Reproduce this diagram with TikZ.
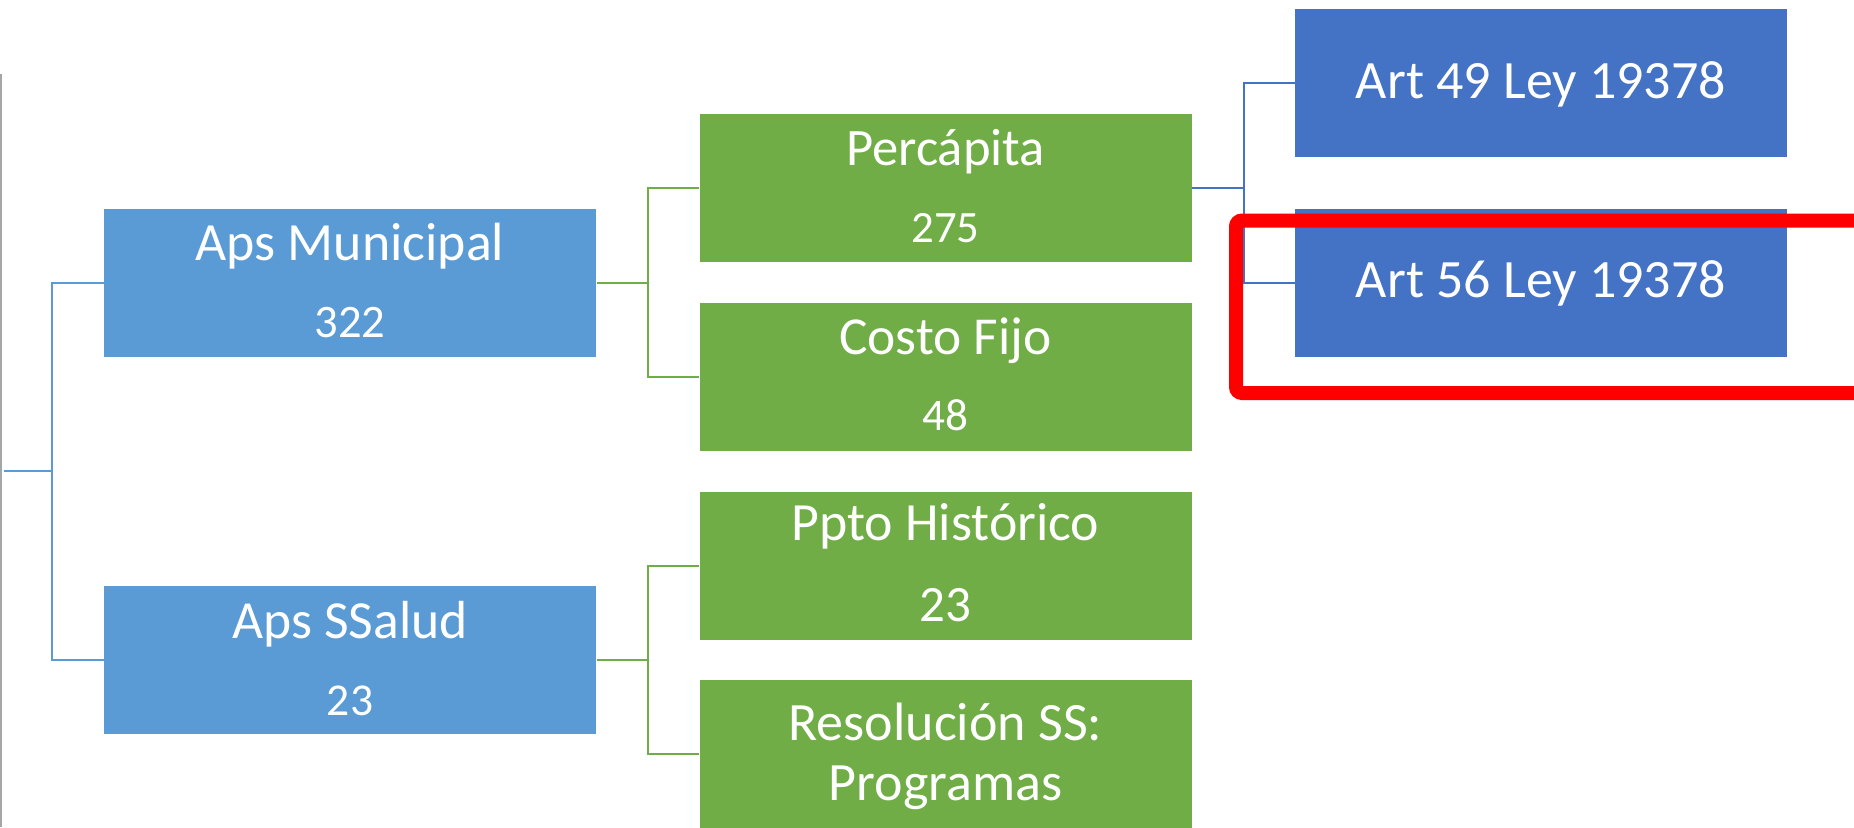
\documentclass[tikz,border=0pt]{standalone}
\usepackage{fontspec}
\setmainfont{Carlito}
\newfontfamily\calfnt{Carlito}
\definecolor{lblue}{HTML}{5B9BD5}
\definecolor{lgreen}{HTML}{70AD47}
\definecolor{dblue}{HTML}{4472C4}
\begin{document}
\begin{tikzpicture}[x=0.5pt,y=-0.5pt,
  box/.style={rectangle,inner sep=0pt,outer sep=0pt,minimum height=74.5pt,minimum width=246.5pt,draw=white,line width=0.4pt},
  lone/.style={box,fill=lblue},
  ltwo/.style={box,fill=lgreen},
  lthree/.style={box,fill=dblue},
  txt/.style={anchor=base,text=white,inner sep=0pt},
  bl/.style={draw=lblue,line width=1pt},
  gl/.style={draw=lgreen,line width=1pt},
  dl/.style={draw=dblue,line width=1pt}]
\useasboundingbox (0,0) rectangle (1854,827);
% page edge
\draw[black!35,line width=0.8pt] (1,74) -- (1,827);
% boxes
\node[lone] (apm) at (350,282.5) {};
\node[lone] (aps) at (350,660) {};
\node[ltwo] (perc) at (945.5,187.5) {};
\node[ltwo] (cf) at (945.5,376.5) {};
\node[ltwo] (ppto) at (945.5,566) {};
\node[ltwo] (res) at (945.5,754) {};
\node[lthree] (a49) at (1541,82.5) {};
\node[lthree] (a56) at (1541,282.5) {};
% texts
\node[txt,font=\calfnt\fontsize{26.9}{30}\selectfont] (tapm) at (350,260) {Aps Municipal};
\node[txt,font=\calfnt\fontsize{23.3}{30}\selectfont] (napm) at (350,337) {322};
\node[txt,font=\calfnt\fontsize{26.8}{30}\selectfont] (taps) at (350,638) {Aps SSalud};
\node[txt,font=\calfnt\fontsize{22.8}{30}\selectfont] (naps) at (350,715) {23};
\node[txt,font=\calfnt\fontsize{26.3}{30}\selectfont] (tperc) at (945.5,165) {Percápita};
\node[txt,font=\calfnt\fontsize{22.4}{30}\selectfont] (nperc) at (945.5,242) {275};
\node[txt,font=\calfnt\fontsize{26.7}{30}\selectfont] (tcf) at (945.5,354) {Costo Fijo};
\node[txt,font=\calfnt\fontsize{22.6}{30}\selectfont] (ncf) at (945.5,430) {48};
\node[txt,font=\calfnt\fontsize{26.9}{30}\selectfont] (tppto) at (945.5,540) {Ppto Histórico};
\node[txt,font=\calfnt\fontsize{25.5}{30}\selectfont] (nppto) at (945.5,621.7) {23};
\node[txt,font=\calfnt\fontsize{27}{30}\selectfont] (tres) at (945.5,740) {Resolución SS:};
\node[txt,font=\calfnt\fontsize{27}{30}\selectfont] (tres2) at (945.5,800) {Programas};
\node[txt,font=\calfnt\fontsize{27}{30}\selectfont] (ta49) at (1541,98) {Art 49 Ley 19378};
\node[txt,font=\calfnt\fontsize{27}{30}\selectfont] (ta56) at (1541,297) {Art 56 Ley 19378};
% connectors
\coordinate (root) at (4,471);
\coordinate (j0) at (52,0);
\coordinate (j1) at (648,0);
\coordinate (j2) at (1243.5,0);
\draw[bl] (root) -- (root -| j0) |- (apm.west);
\draw[bl] (root -| j0) |- (aps.west);
\draw[gl] (apm.east) -- (apm.east -| j1) |- (perc.west);
\draw[gl] (apm.east -| j1) |- (cf.west);
\draw[gl] (aps.east) -- (aps.east -| j1) |- (ppto.west);
\draw[gl] (aps.east -| j1) |- (res.west);
\draw[dl] (perc.east) -- (perc.east -| j2) |- (a49.west);
\draw[dl] (perc.east -| j2) |- (a56.west);
% highlight
\draw[red,line width=7pt,rounded corners=3pt] (1236,220.5) rectangle (1900,393);
\end{tikzpicture}
\end{document}
